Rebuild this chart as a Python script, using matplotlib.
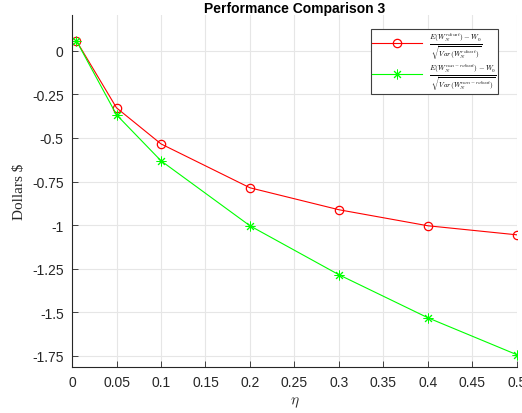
import matplotlib
matplotlib.use("Agg")
import matplotlib.pyplot as plt

eta = [0.005, 0.05, 0.1, 0.2, 0.3, 0.4, 0.5]
robust = [0.057, -0.327, -0.534, -0.786, -0.912, -1.004, -1.056]
non_robust = [0.057, -0.367, -0.631, -1.004, -1.285, -1.532, -1.744]
x_ticks = [0, 0.05, 0.1, 0.15, 0.2, 0.25, 0.3, 0.35, 0.4, 0.45, 0.5]
y_ticks = [0, -0.25, -0.5, -0.75, -1, -1.25, -1.5, -1.75]

plt.rcParams["font.family"] = ["Liberation Sans", "DejaVu Sans"]
plt.rcParams["mathtext.fontset"] = "cm"

fig = plt.figure(figsize=(5.22, 4.14), dpi=100)
ax = fig.add_axes([0.138, 0.111, 0.852, 0.850])

label_r = r"$\frac{E(W_N^{robust})-W_0}{\sqrt{Var(W_N^{robust})}}$"
label_g = r"$\frac{E(W_N^{non-robust})-W_0}{\sqrt{Var(W_N^{non-robust})}}$"
ax.plot(eta, robust, color="red", lw=0.8, marker="o", ms=6, mfc="none", mew=0.9, label=label_r)
ax.plot(eta, non_robust, color="#00ff00", lw=0.8, marker=(8, 2, 0), ms=7, mew=0.7, label=label_g)

ax.set_xlim(0, 0.5)
ax.set_ylim(-1.815, 0.205)
ax.set_xticks(x_ticks)
ax.set_xticklabels(["0", "0.05", "0.1", "0.15", "0.2", "0.25", "0.3", "0.35", "0.4", "0.45", "0.5"])
ax.set_yticks(y_ticks)
ax.set_yticklabels(["0", "-0.25", "-0.5", "-0.75", "-1", "-1.25", "-1.5", "-1.75"])
ax.tick_params(direction="in", length=4, width=0.6, labelsize=10, colors="#262626", pad=6)
ax.grid(True, color="#e6e6e6", lw=0.8)
ax.set_axisbelow(True)
for s in ["top", "right"]:
    ax.spines[s].set_visible(False)
for s in ["left", "bottom"]:
    ax.spines[s].set_linewidth(0.8)
    ax.spines[s].set_color("#262626")

ax.set_title("Performance Comparison 3", fontsize=10, fontweight="bold", pad=2)
ax.set_xlabel(r"$\eta$", fontsize=11, color="#262626")
ax.set_ylabel("Dollars $", fontsize=11, family="Liberation Serif", color="#262626")

leg = ax.legend(loc="upper right", bbox_to_anchor=(0.97, 0.975), fontsize=7.5, fancybox=False,
                framealpha=1, edgecolor="#404040", handlelength=4.8, borderpad=0.15,
                labelspacing=0.0, handletextpad=0.6)
leg.get_frame().set_linewidth(0.8)

fig.savefig("out.png", dpi=100)
